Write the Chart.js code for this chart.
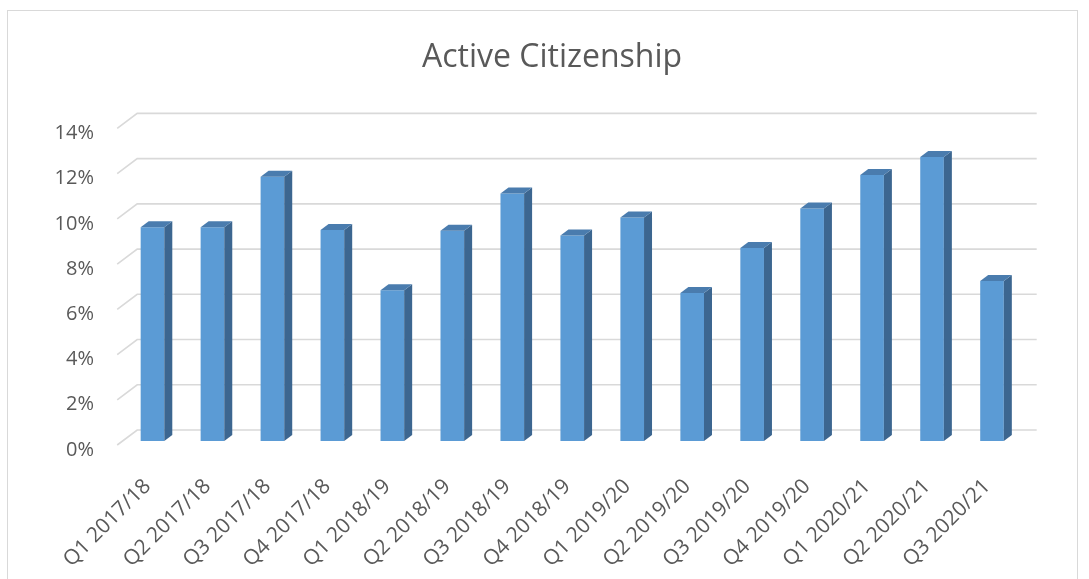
<!DOCTYPE html>
<html>
<head>
<meta charset="utf-8">
<script src="https://cdn.jsdelivr.net/npm/chart.js@4.4.1/dist/chart.umd.min.js"></script>
<style>
  html, body { margin: 0; padding: 0; background: #fff; }
  #frame { position: absolute; left: 7px; top: 10px; width: 1071px; height: 600px; border: 1px solid #d9d9d9; box-sizing: border-box; }
  #wrap { position: absolute; left: 0; top: 0; width: 1089px; height: 579px; }
</style>
</head>
<body>
<div id="frame"></div>
<div id="wrap"><canvas id="chart" width="1089" height="579"></canvas></div>
<script>
const categories = [
  'Q1 2017/18', 'Q2 2017/18', 'Q3 2017/18', 'Q4 2017/18',
  'Q1 2018/19', 'Q2 2018/19', 'Q3 2018/19', 'Q4 2018/19',
  'Q1 2019/20', 'Q2 2019/20', 'Q3 2019/20', 'Q4 2019/20',
  'Q1 2020/21', 'Q2 2020/21', 'Q3 2020/21'
];
const rates = [9.45, 9.45, 11.69, 9.33, 6.67, 9.30, 10.94, 9.09, 9.88, 6.54, 8.53, 10.28, 11.76, 12.56, 7.08];
const yTickValues = [0, 2, 4, 6, 8, 10, 12, 14];
const yTickLabels = ['0%', '2%', '4%', '6%', '8%', '10%', '12%', '14%'];

const FONT = "'Open Sans', 'Noto Sans', sans-serif";
const TEXT = '#595959';
const GRID = '#d9d9d9';

// fake 3d: the wall sits behind the bars, the floor corner in front of them
const depth = {
  wallDx: 14.7, wallDy: -11,
  frontDx: -5.3, frontDy: 4,
  barDx: 8, barDy: -6,
  side: '#3c6690',
  top: '#4a7cae'
};

const depthPlugin = {
  id: 'depth',
  beforeDatasetsDraw(chart) {
    const { ctx, chartArea, scales: { y } } = chart;
    ctx.save();
    ctx.strokeStyle = GRID;
    ctx.lineWidth = 1.6;
    y.ticks.forEach(t => {
      const py = y.getPixelForValue(t.value);
      ctx.beginPath();
      ctx.moveTo(chartArea.left + depth.frontDx, py + depth.frontDy);
      ctx.lineTo(chartArea.left + depth.wallDx, py + depth.wallDy);
      ctx.lineTo(chartArea.right + depth.wallDx, py + depth.wallDy);
      ctx.stroke();
    });
    ctx.restore();
  },
  afterDatasetsDraw(chart) {
    const { ctx } = chart;
    const meta = chart.getDatasetMeta(0);
    const dx = depth.barDx, dy = depth.barDy;
    ctx.save();
    meta.data.forEach(bar => {
      const { x, y, base, width } = bar.getProps(['x', 'y', 'base', 'width'], true);
      const l = x - width / 2, r = x + width / 2;
      ctx.fillStyle = depth.side;
      ctx.beginPath();
      ctx.moveTo(r, y);
      ctx.lineTo(r + dx, y + dy);
      ctx.lineTo(r + dx, base + dy);
      ctx.lineTo(r, base);
      ctx.closePath();
      ctx.fill();
      ctx.fillStyle = depth.top;
      ctx.beginPath();
      ctx.moveTo(l, y);
      ctx.lineTo(r, y);
      ctx.lineTo(r + dx, y + dy);
      ctx.lineTo(l + dx, y + dy);
      ctx.closePath();
      ctx.fill();
    });
    ctx.restore();
  }
};

new Chart(document.getElementById('chart'), {
  type: 'bar',
  data: {
    labels: categories,
    datasets: [{
      label: 'Active Citizenship',
      data: rates,
      backgroundColor: '#5b9bd5',
      borderWidth: 0,
      categoryPercentage: 1,
      barPercentage: 0.394,
      clip: false
    }]
  },
  options: {
    responsive: false,
    animation: false,
    devicePixelRatio: 1,
    layout: { padding: { left: 15, right: 0, top: 0, bottom: 0 } },
    plugins: {
      legend: { display: false },
      tooltip: { enabled: false },
      title: {
        display: true,
        text: 'Active Citizenship',
        color: TEXT,
        font: { family: FONT, size: 32, weight: 'normal' },
        padding: { top: 39, bottom: 47 }
      }
    },
    scales: {
      x: {
        grid: { display: false, drawTicks: false },
        border: { display: false },
        ticks: {
          color: TEXT,
          font: { family: FONT, size: 21 },
          minRotation: 45,
          maxRotation: 45,
          autoSkip: false,
          padding: 33,
          labelOffset: -5
        },
        afterFit(scale) { scale.height = 138; }
      },
      y: {
        min: 0,
        max: 14,
        grid: { display: false, drawTicks: false },
        border: { display: false },
        afterBuildTicks(scale) {
          scale.ticks = yTickValues.map(v => ({ value: v }));
        },
        ticks: {
          color: TEXT,
          font: { family: FONT, size: 20 },
          padding: 28.5,
          labelOffset: 9,
          callback: (v) => yTickLabels[yTickValues.indexOf(v)]
        },
        afterFit(scale) { scale.width = 107.5; }
      },
      // empty right-hand band so the title centres over the whole frame
      yRight: {
        position: 'right',
        display: true,
        grid: { display: false, drawTicks: false },
        border: { display: false },
        ticks: { display: false },
        afterFit(scale) { scale.width = 67; }
      }
    }
  },
  plugins: [depthPlugin]
});
</script>
</body>
</html>
